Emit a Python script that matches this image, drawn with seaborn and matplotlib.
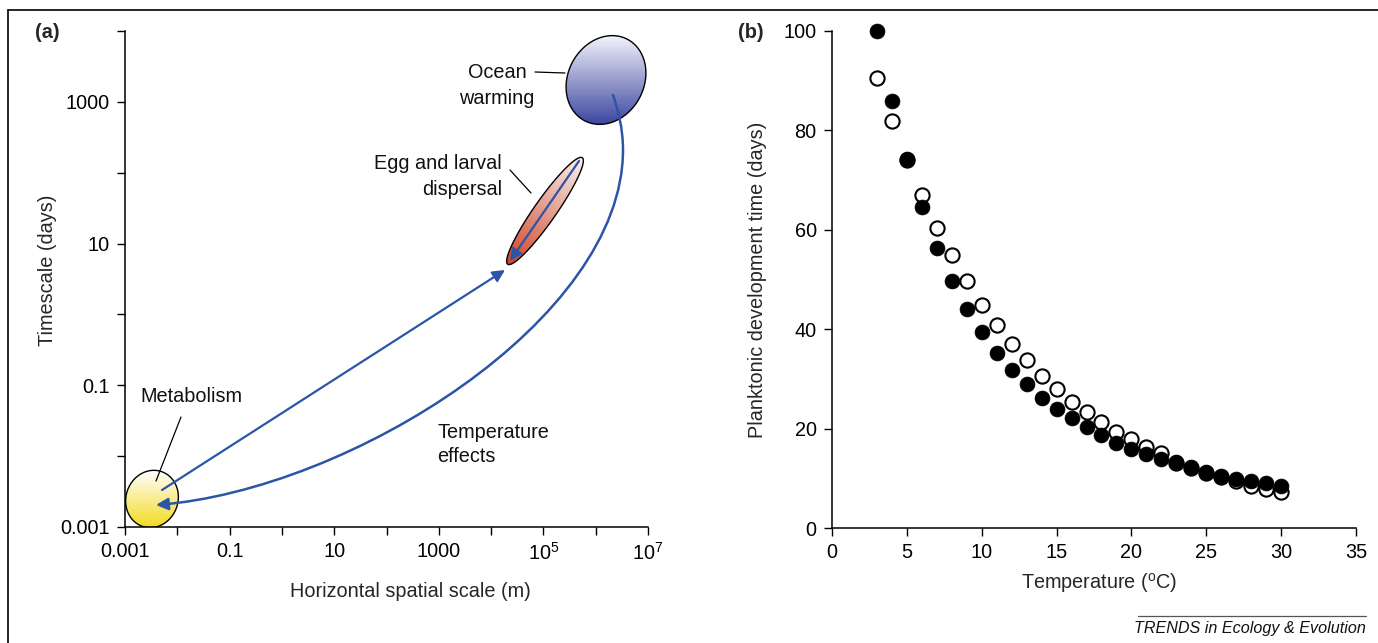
import numpy as np
import matplotlib
matplotlib.use("Agg")
import matplotlib.pyplot as plt
import seaborn as sns
import pandas as pd
from matplotlib.patches import Polygon, FancyArrowPatch
from matplotlib.path import Path
from matplotlib.lines import Line2D
from matplotlib.colors import LinearSegmentedColormap

# ---------------- data ----------------
# Panel (b): planktonic development time vs temperature
temperature = list(range(3, 31))
dev_filled = [100.0, 85.9, 74.2, 64.6, 56.3, 49.7, 44.1, 39.4, 35.3, 31.8, 28.9, 26.2,
              23.9, 22.1, 20.3, 18.7, 17.1, 15.9, 14.9, 13.9, 13.3, 12.3, 11.3, 10.5,
              9.9, 9.5, 9.1, 8.5]
dev_open = [90.5, 81.9, 74.0, 67.0, 60.4, 54.9, 49.6, 44.9, 40.8, 37.1, 33.8, 30.6,
            28.0, 25.4, 23.3, 21.3, 19.3, 17.9, 16.3, 15.1, 13.1, 12.0, 11.0, 10.2,
            9.5, 8.5, 7.9, 7.3]

# Panel (a): axis ticks (log10 units)
a_xticks = list(range(-3, 8))
a_xticklabels = ["0.001", "", "0.1", "", "10", "", "1000", "", "$10^5$", "", "$10^7$"]
a_yticks = list(range(-3, 5))
a_yticklabels = ["0.001", "", "0.1", "", "10", "", "1000", ""]
b_xticks = [0, 5, 10, 15, 20, 25, 30, 35]
b_yticks = [0, 20, 40, 60, 80, 100]

# ---------------- style ----------------
sns.set_style("ticks")
plt.rcParams["font.family"] = ["Liberation Sans", "DejaVu Sans"]
plt.rcParams["mathtext.fontset"] = "custom"
plt.rcParams["mathtext.rm"] = "Liberation Sans"
plt.rcParams["mathtext.it"] = "Liberation Sans:italic"
FS = 14.3

W, H = 1378, 643
fig = plt.figure(figsize=(W / 100, H / 100), dpi=100)
fig.patch.set_facecolor("white")

axa = fig.add_axes([125 / W, (H - 527) / H, 523 / W, 496 / H])
axb = fig.add_axes([832 / W, (H - 528) / H, 524 / W, 497 / H])

for ax in (axa, axb):
    for s in ("top", "right"):
        ax.spines[s].set_visible(False)
    for s in ("left", "bottom"):
        ax.spines[s].set_linewidth(1.1)
        ax.spines[s].set_color("black")
    ax.tick_params(direction="out", length=6, width=1.0, colors="black",
                   labelsize=FS, pad=5)
    ax.set_facecolor("white")

# ---------------- panel (a) ----------------
axa.set_xlim(-3, 7)
axa.set_ylim(-3, 4)
axa.set_xticks(a_xticks)
axa.set_xticklabels(a_xticklabels)
axa.set_yticks(a_yticks)
axa.set_yticklabels(a_yticklabels)
axa.set_xlabel("Horizontal spatial scale (m)", fontsize=FS)
axa.xaxis.set_label_coords((410 - 125) / 523, -(582 - 527) / 496)
axa.set_ylabel("Timescale (days)", fontsize=FS)
axa.yaxis.set_label_coords(-(125 - 57) / 523, (527 - 270) / 496)

XPD = 52.3   # pixels per decade (x)
YPD = 496 / 7  # pixels per decade (y)


def P(px, py):
    return (-3 + (px - 125) / XPD, -3 + (527 - py) / YPD)


def ellipse_pts(cx, cy, a, b, ang):
    t = np.linspace(0, 2 * np.pi, 200)
    u, v = a * np.cos(t), b * np.sin(t)
    th = np.deg2rad(ang)
    dx = u * np.cos(th) - v * np.sin(th)
    dy = u * np.sin(th) + v * np.cos(th)
    px, py = cx + dx, cy - dy
    return np.column_stack(P(px, py)), (px.min(), px.max(), py.min(), py.max())


def grad_ellipse(cx, cy, a, b, ang, gdir, c_light, c_dark, lw=1.0):
    pts, (x0, x1, y0, y1) = ellipse_pts(cx, cy, a, b, ang)
    poly = Polygon(pts, closed=True, facecolor="none", edgecolor="black",
                   linewidth=lw, zorder=3)
    axa.add_patch(poly)
    gx = np.linspace(x0, x1, 120)
    gy = np.linspace(y0, y1, 120)
    GX, GY = np.meshgrid(gx, gy)
    g = np.deg2rad(gdir)
    proj = (GX - cx) * np.cos(g) + (cy - GY) * np.sin(g)
    proj = (proj - proj.min()) / (proj.max() - proj.min())
    cmap = LinearSegmentedColormap.from_list("g", [c_dark, c_light])
    ex0, ey1 = P(x0, y0)
    ex1, ey0 = P(x1, y1)
    im = axa.imshow(proj, extent=[ex0, ex1, ey0, ey1], origin="upper",
                    cmap=cmap, aspect="auto", zorder=2, interpolation="bilinear")
    im.set_clip_path(poly)


# Ocean warming ellipse
grad_ellipse(606, 80, 46, 38, 62, 90, "#f4f4fb", "#3d48a0")
# Egg and larval dispersal ellipse
grad_ellipse(545, 211, 65, 11, 55, 55, "#fbf1ee", "#cf4427")
# Metabolism ellipse
grad_ellipse(152, 499, 29, 26, 70, 90, "#ffffff", "#f3da22")

axa.set_xlim(-3, 7)
axa.set_ylim(-3, 4)

ARROW = "#2c55a8"
# straight arrow metabolism -> egg
arr1 = FancyArrowPatch(P(162, 490), P(505, 270), arrowstyle="-|>",
                       mutation_scale=18, color=ARROW, linewidth=1.6, zorder=5,
                       shrinkA=0, shrinkB=0)
axa.add_patch(arr1)
# arrow inside egg ellipse
arr2 = FancyArrowPatch(P(579, 161), P(510, 261), arrowstyle="-|>",
                       mutation_scale=18, color=ARROW, linewidth=1.6, zorder=5,
                       shrinkA=0, shrinkB=0)
axa.add_patch(arr2)

# curved temperature-effects arrow (two smooth cubic segments, pixel guides)
verts = [P(613, 95), P(618, 110), P(623, 128), P(623, 150),
         P(623, 320), P(350, 490), P(156, 505)]
codes = [Path.MOVETO] + [Path.CURVE4] * 6
curve = Path(verts, codes)
arr3 = FancyArrowPatch(path=curve, arrowstyle="-|>", mutation_scale=18,
                       color=ARROW, linewidth=1.8, zorder=5)
axa.add_patch(arr3)

# leader lines
for (p0, p1) in [((535, 72), (565, 73)), ((510, 170), (531, 193)),
                 ((181, 417), (156, 481))]:
    a0, a1 = P(*p0), P(*p1)
    axa.plot([a0[0], a1[0]], [a0[1], a1[1]], color="black", linewidth=0.9, zorder=4)

# annotation texts
tkw = dict(fontsize=FS, color="#111111", va="center", zorder=6)
axa.text(*P(497, 73), "Ocean", ha="center", **tkw)
axa.text(*P(497, 99), "warming", ha="center", **tkw)
axa.text(*P(502, 163), "Egg and larval", ha="right", **tkw)
axa.text(*P(502, 189), "dispersal", ha="right", **tkw)
axa.text(*P(140, 396), "Metabolism", ha="left", **tkw)
axa.text(*P(437, 432), "Temperature", ha="left", **tkw)
axa.text(*P(437, 457), "effects", ha="left", **tkw)

# ---------------- panel (b) ----------------
df = pd.DataFrame({"temp": temperature, "filled": dev_filled, "open": dev_open})
sns.scatterplot(data=df, x="temp", y="open", ax=axb, marker="o", s=105,
                facecolor="white", edgecolor="black", linewidth=1.5,
                zorder=3, clip_on=False)
sns.scatterplot(data=df, x="temp", y="filled", ax=axb, marker="o", s=115,
                color="black", edgecolor="black", linewidth=0.5,
                zorder=4, clip_on=False)
axb.set_xlim(0, 35)
axb.set_ylim(0, 100)
axb.set_xticks(b_xticks)
axb.set_yticks(b_yticks)
axb.set_xlabel("Temperature ($^{\\mathrm{o}}$C)", fontsize=FS)
axb.xaxis.set_label_coords((1099 - 832) / 524, -(571 - 528) / 497)
axb.set_ylabel("Planktonic development time (days)", fontsize=FS)
axb.yaxis.set_label_coords(-(832 - 767) / 524, 0.5)

# ---------------- figure decorations ----------------
fig.text(35 / W, 1 - 33 / H, "(a)", fontsize=FS, fontweight="bold", va="center", ha="left")
fig.text(738 / W, 1 - 33 / H, "(b)", fontsize=FS, fontweight="bold", va="center", ha="left")

fig.add_artist(Line2D([8 / W, 1], [1 - 10 / H, 1 - 10 / H], color="black", linewidth=1.2,
                      transform=fig.transFigure))
fig.add_artist(Line2D([8 / W, 8 / W], [0, 1 - 10 / H], color="black", linewidth=1.2,
                      transform=fig.transFigure))
fig.add_artist(Line2D([1138 / W, 1366 / W], [1 - 616 / H, 1 - 616 / H], color="#555555",
                      linewidth=0.9, transform=fig.transFigure))
fig.text(1366 / W, 1 - 628 / H, "TRENDS in Ecology & Evolution", fontsize=11.6,
         fontstyle="italic", ha="right", va="center", color="#111111")

fig.savefig("out.png", dpi=100, facecolor="white")
